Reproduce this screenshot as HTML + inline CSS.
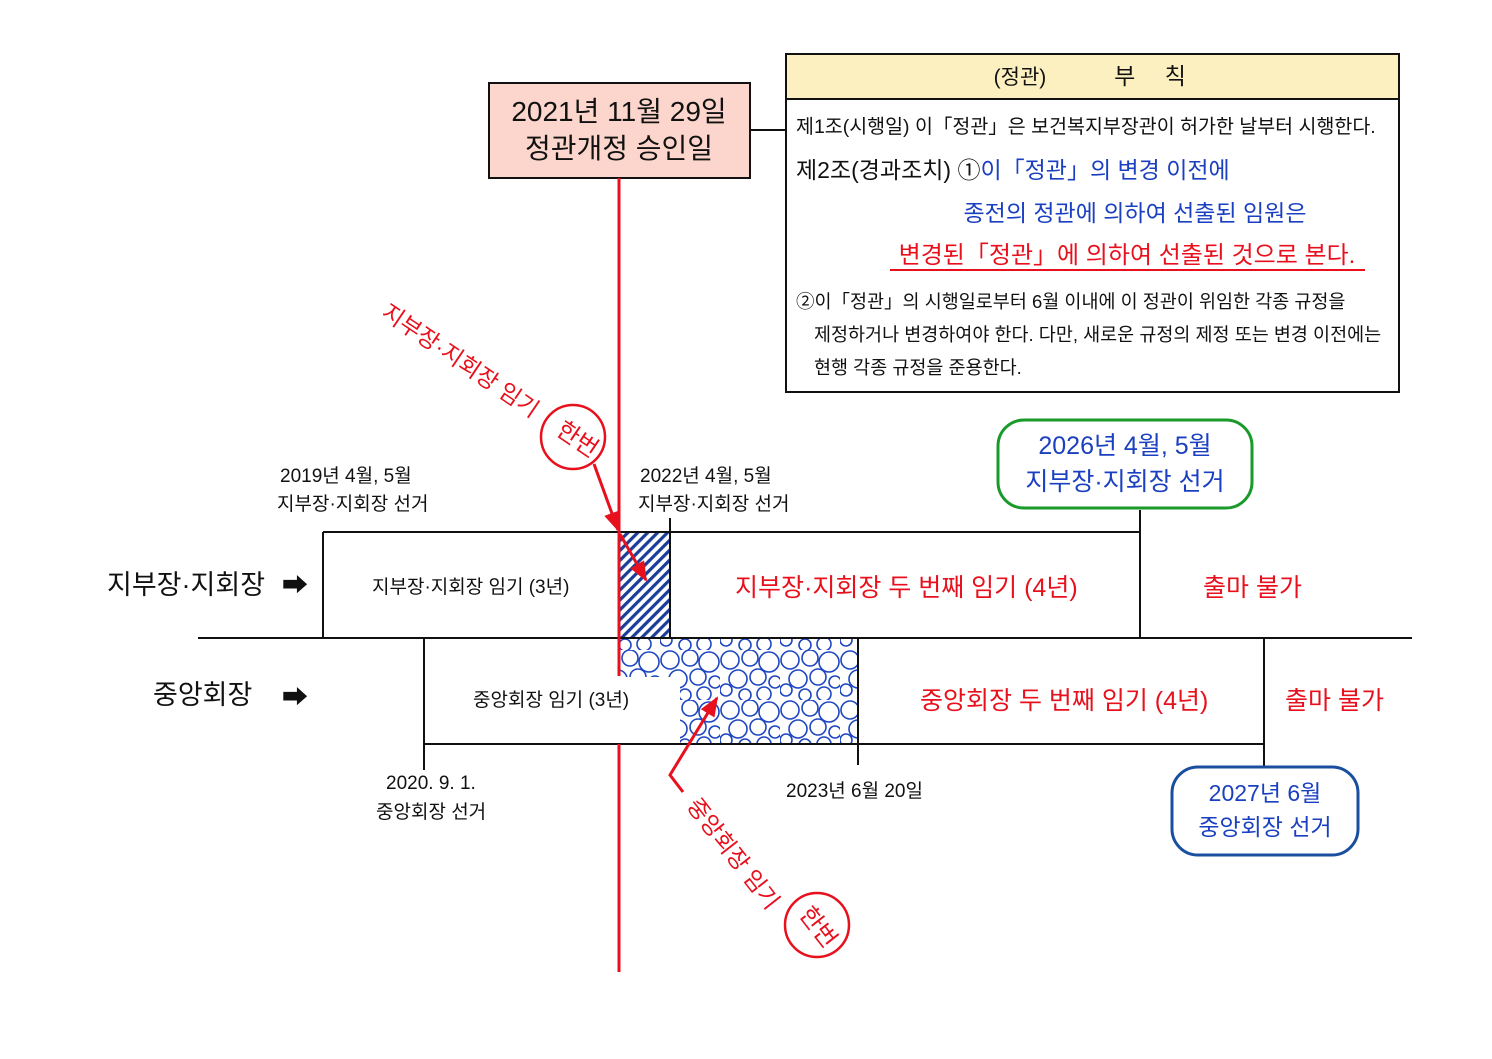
<!DOCTYPE html>
<html><head><meta charset="utf-8"><style>
html,body{margin:0;padding:0;background:#fff}
svg text{font-family:"Liberation Sans","Noto Sans CJK KR",sans-serif}
</style></head><body>
<svg width="1492" height="1054" viewBox="0 0 1492 1054" xmlns="http://www.w3.org/2000/svg">
<defs>
<pattern id="hatch" width="7" height="7" patternUnits="userSpaceOnUse" patternTransform="rotate(45)">
<rect width="7" height="7" fill="#fff"/><rect width="3.2" height="7" fill="#1a3d9a"/></pattern>
<pattern id="bub" width="60" height="50" patternUnits="userSpaceOnUse">
<rect width="60" height="50" fill="#fff"/>
<g fill="none" stroke="#1e46c0" stroke-width="1.6">
<circle cx="10" cy="10" r="9"/><circle cx="30" cy="8" r="8"/><circle cx="49" cy="12" r="10"/>
<circle cx="18" cy="29" r="9"/><circle cx="38" cy="27" r="8"/><circle cx="55" cy="32" r="6"/>
<circle cx="6" cy="40" r="6"/><circle cx="25" cy="45" r="6"/><circle cx="44" cy="44" r="7"/>
</g></pattern>
<marker id="ar2" markerWidth="20" markerHeight="20" refX="18" refY="10" orient="auto" markerUnits="userSpaceOnUse"><path d="M0,2 L20,10 L0,18 Z" fill="#e8101c"/></marker>
</defs>

<rect x="489" y="83" width="261" height="95" fill="#fcd6cc" stroke="#111" stroke-width="2"/>
<text x="619" y="121" font-size="28" text-anchor="middle" fill="#111">2021년 11월 29일</text>
<text x="619" y="158" font-size="28" text-anchor="middle" fill="#111">정관개정 승인일</text>
<line x1="750" y1="130" x2="786" y2="130" stroke="#111" stroke-width="2"/>

<rect x="786" y="54" width="613" height="338" fill="#fff" stroke="#111" stroke-width="2"/>
<rect x="787" y="55" width="611" height="44" fill="#fdf0c0"/>
<line x1="786" y1="99" x2="1399" y2="99" stroke="#111" stroke-width="2"/>
<text x="1020" y="84" font-size="21" text-anchor="middle" fill="#111">(정관)</text>
<text x="1150" y="84" font-size="23" text-anchor="middle" fill="#111">부　 칙</text>
<text x="796" y="133" font-size="19.5" fill="#111">제1조(시행일) 이「정관」은 보건복지부장관이 허가한 날부터 시행한다.</text>
<text x="796" y="178" font-size="23" fill="#111">제2조(경과조치) ①<tspan fill="#1a3fc0">이「정관」의 변경 이전에</tspan></text>
<text x="1135" y="221" font-size="23" text-anchor="middle" fill="#1a3fc0">종전의 정관에 의하여 선출된 임원은</text>
<text x="1127" y="263" font-size="24" text-anchor="middle" fill="#e8101c">변경된「정관」에 의하여 선출된 것으로 본다.</text>
<line x1="890" y1="270" x2="1365" y2="270" stroke="#e8101c" stroke-width="2"/>
<text x="796" y="308" font-size="18.5" fill="#111">②이「정관」의 시행일로부터 6월 이내에 이 정관이 위임한 각종 규정을</text>
<text x="814" y="341" font-size="18.5" fill="#111">제정하거나 변경하여야 한다. 다만, 새로운 규정의 제정 또는 변경 이전에는</text>
<text x="814" y="374" font-size="18.5" fill="#111">현행 각종 규정을 준용한다.</text>

<rect x="620" y="532" width="50" height="106" fill="url(#hatch)"/>
<rect x="620" y="638" width="238" height="106" fill="url(#bub)"/>
<rect x="620" y="677" width="60" height="67" fill="#fff"/>

<g stroke="#111" stroke-width="2">
<line x1="323" y1="532" x2="1140" y2="532"/>
<line x1="323" y1="532" x2="323" y2="638"/>
<line x1="670" y1="518" x2="670" y2="638"/>
<line x1="1140" y1="510" x2="1140" y2="638"/>
<line x1="198" y1="638" x2="1412" y2="638"/>
<line x1="424" y1="744" x2="1264" y2="744"/>
<line x1="424" y1="638" x2="424" y2="770"/>
<line x1="858" y1="638" x2="858" y2="765"/>
<line x1="1264" y1="638" x2="1264" y2="768"/>
</g>

<line x1="619" y1="178" x2="619" y2="676" stroke="#e8101c" stroke-width="3"/>
<line x1="619" y1="744" x2="619" y2="972" stroke="#e8101c" stroke-width="3"/>

<text x="107" y="594" font-size="27" fill="#111">지부장·지회장</text>
<text x="282" y="594" font-size="26" fill="#111">➡</text>
<text x="153" y="704" font-size="27" fill="#111">중앙회장</text>
<text x="282" y="706" font-size="26" fill="#111">➡</text>

<text x="280" y="482" font-size="19" fill="#111">2019년 4월, 5월</text>
<text x="277" y="510" font-size="19" fill="#111">지부장·지회장 선거</text>
<text x="640" y="482" font-size="19" fill="#111">2022년 4월, 5월</text>
<text x="638" y="510" font-size="19" fill="#111">지부장·지회장 선거</text>

<rect x="998" y="420" width="254" height="88" rx="26" fill="#fff" stroke="#1a9a2a" stroke-width="3"/>
<text x="1125" y="454" font-size="25" text-anchor="middle" fill="#1a3fc0">2026년 4월, 5월</text>
<text x="1125" y="490" font-size="25" text-anchor="middle" fill="#1a3fc0">지부장·지회장 선거</text>

<text x="372" y="593" font-size="19" fill="#111">지부장·지회장 임기 (3년)</text>
<text x="735" y="596" font-size="25" fill="#e8101c">지부장·지회장 두 번째 임기 (4년)</text>
<text x="1203" y="596" font-size="25" fill="#e8101c">출마 불가</text>
<text x="473" y="706" font-size="19" fill="#111">중앙회장 임기 (3년)</text>
<text x="920" y="709" font-size="25" fill="#e8101c">중앙회장 두 번째 임기 (4년)</text>
<text x="1285" y="709" font-size="25" fill="#e8101c">출마 불가</text>

<text x="386" y="789" font-size="19" fill="#111">2020. 9. 1.</text>
<text x="376" y="818" font-size="19" fill="#111">중앙회장 선거</text>
<text x="786" y="797" font-size="19" fill="#111">2023년 6월 20일</text>

<rect x="1172" y="767" width="186" height="88" rx="26" fill="#fff" stroke="#1a4fa0" stroke-width="3"/>
<text x="1265" y="801" font-size="23" text-anchor="middle" fill="#1a3fc0">2027년 6월</text>
<text x="1265" y="835" font-size="23" text-anchor="middle" fill="#1a3fc0">중앙회장 선거</text>

<text transform="translate(380,316) rotate(34)" font-size="23" fill="#e8101c">지부장·지회장 임기</text>
<circle cx="573" cy="437" r="32" fill="#fff" stroke="#e8101c" stroke-width="2.5"/>
<text transform="translate(573,446) rotate(34)" font-size="24" text-anchor="middle" fill="#e8101c">한번</text>
<line x1="594" y1="464" x2="618" y2="530" stroke="#e8101c" stroke-width="3" marker-end="url(#ar2)"/>
<line x1="620" y1="534" x2="646" y2="580" stroke="#e8101c" stroke-width="3" marker-end="url(#ar2)"/>

<text transform="translate(686,806) rotate(52)" font-size="23" fill="#e8101c">중앙회장 임기</text>
<circle cx="817" cy="925" r="32" fill="#fff" stroke="#e8101c" stroke-width="2.5"/>
<text transform="translate(812,932) rotate(52)" font-size="24" text-anchor="middle" fill="#e8101c">한번</text>
<polyline points="683,792 670,775 717,698" fill="none" stroke="#e8101c" stroke-width="3" marker-end="url(#ar2)"/>
</svg>
</body></html>
